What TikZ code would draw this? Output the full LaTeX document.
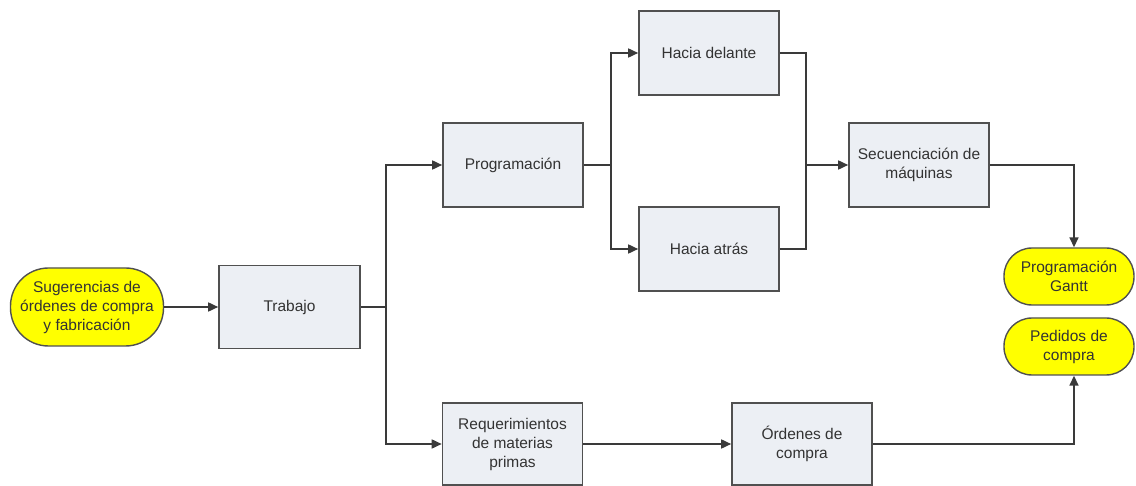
\documentclass[tikz,border=0pt]{standalone}
\usepackage{fontspec}
\setmainfont{Liberation Sans}
\usetikzlibrary{arrows.meta}
\definecolor{boxfill}{HTML}{ECEFF4}
\definecolor{boxline}{HTML}{505050}
\definecolor{txt}{HTML}{333333}
\definecolor{termfill}{HTML}{FFFF00}
\definecolor{wire}{HTML}{3A3A3A}
\begin{document}
\begin{tikzpicture}[x=1pt,y=-1pt,
  every node/.style={font=\fontsize{15.5}{19}\selectfont, text=txt, align=center},
  procbox/.style={draw=boxline, line width=1.6pt, fill=boxfill, minimum width=140pt, minimum height=84pt, inner sep=2pt},
  terminal/.style={draw=boxline, line width=1.4pt, fill=termfill, rounded corners=28pt, inner sep=2pt},
  wireline/.style={draw=wire, line width=1.6pt},
  arr/.style={wireline, -{Triangle[length=10pt,width=9pt]}}]
\useasboundingbox (0,0) rectangle (1136,486);

% terminals
\node[terminal, minimum width=153pt, minimum height=78pt, rounded corners=38pt] (sug) at (87,307)
  {Sugerencias de\\órdenes de compra\\y fabricación};
\node[terminal, minimum width=130pt, minimum height=57pt] (gantt) at (1069,276.5) {Programación\\Gantt};
\node[terminal, minimum width=130pt, minimum height=57pt] (ped) at (1069,346.5) {Pedidos de\\compra};

% process boxes
\node[procbox, minimum width=141pt, minimum height=83pt] (trab) at (289.5,307) {Trabajo};
\node[procbox] (prog) at (513,165) {Programación};
\node[procbox] (del) at (709,53) {Hacia delante};
\node[procbox] (atr) at (709,249) {Hacia atrás};
\node[procbox] (sec) at (919,165) {Secuenciación de\\máquinas};
\node[procbox, minimum height=82pt] (req) at (512.5,444) {Requerimientos\\de materias\\primas};
\node[procbox, minimum height=82pt] (ord) at (802,444) {Órdenes de\\compra};

% branch points
\coordinate (j1) at (386,307);
\coordinate (j2) at (611,165);
\coordinate (j3) at (806,165);

% connectors
\draw[arr] (sug) -- (trab);
\draw[wireline] (trab.east) -- (j1);
\draw[arr] (j1) |- (prog.west);
\draw[arr] (j1) |- (req.west);
\draw[wireline] (prog.east) -- (j2);
\draw[arr] (j2) |- (del.west);
\draw[arr] (j2) |- (atr.west);
\draw[wireline] (del.east) -| (j3);
\draw[wireline] (atr.east) -| (j3);
\draw[arr] (j3) -- (sec.west);
\draw[arr] (sec.east) -| ([xshift=5pt]gantt.north);
\draw[arr] (req) -- (ord);
\draw[arr] (ord.east) -| ([xshift=5pt]ped.south);
\end{tikzpicture}
\end{document}
